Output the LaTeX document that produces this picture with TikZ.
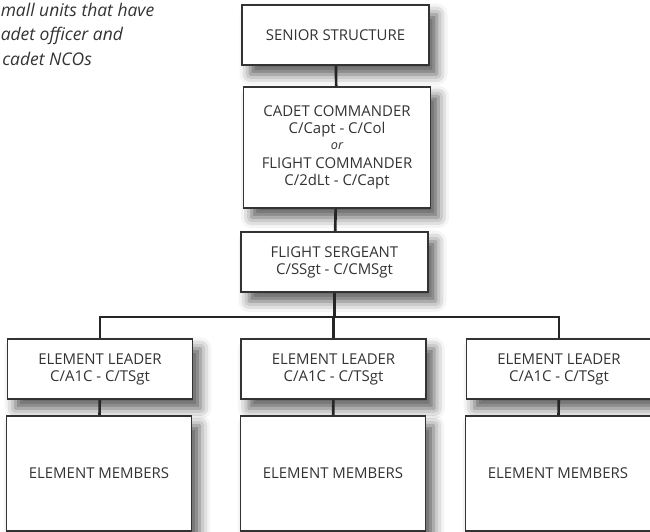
\documentclass[tikz,border=0pt]{standalone}
\usepackage{fontspec}
\setmainfont{Open Sans}
\usetikzlibrary{shadows.blur}

\definecolor{inkgray}{rgb}{0.2,0.2,0.2}

\begin{document}
\begin{tikzpicture}[x=0.75pt,y=0.75pt,yscale=-1,xscale=1,
	orgbox/.style={draw=inkgray, line width=1.2pt, fill=white, align=center, inner sep=0pt, text=inkgray,
		font=\fontsize{11.2}{12.75}\selectfont,
		blur shadow={shadow xshift=6pt, shadow yshift=-7pt, shadow blur radius=8pt, shadow opacity=65}},
	topbox/.style={orgbox, minimum width=140pt, minimum height=45pt},
	leaderbox/.style={orgbox, minimum width=139pt, minimum height=45pt},
	memberbox/.style={orgbox, minimum width=139pt, minimum height=86pt},
	notetext/.style={anchor=base west, inner sep=0pt, text=inkgray, font=\fontsize{13.1}{16}\selectfont\itshape},
	link/.style={draw=black!85, line width=2pt}]
		\useasboundingbox (0,0) rectangle (650,532);

		% Note in the upper left corner
		\node[notetext] (noteA) at (0.5,16.5) {mall units that have};
		\node[notetext] (noteB) at (0.5,40.5) {adet officer and};
		\node[notetext] (noteC) at (2,65) {cadet NCOs};

		% Command chain
		\node[topbox] (senior) at (335.5,35) {SENIOR STRUCTURE};
		\node[topbox, minimum height=91pt] (commander) at (337,147.5) {CADET COMMANDER\\ C/Capt - C/Col\\[-1pt] {\fontsize{9.5}{10}\selectfont\itshape or}\\[1.5pt] FLIGHT COMMANDER\\ C/2dLt - C/Capt};
		\node[topbox] (sergeant) at (334.5,262) {FLIGHT SERGEANT\\ C/SSgt - C/CMSgt};

		% Elements
		\node[leaderbox] (leaderL) at (100,369) {ELEMENT LEADER\\ C/A1C - C/TSgt};
		\node[leaderbox] (leaderM) at (333.5,369) {ELEMENT LEADER\\ C/A1C - C/TSgt};
		\node[leaderbox] (leaderR) at (559,369) {ELEMENT LEADER\\ C/A1C - C/TSgt};

		\node[memberbox] (membersL) at (99,473.5) {ELEMENT MEMBERS};
		\node[memberbox] (membersM) at (333,473.5) {ELEMENT MEMBERS};
		\node[memberbox] (membersR) at (558,473.5) {ELEMENT MEMBERS};

		% Connectors
		\coordinate (bus) at (333,317);
		\draw[link] (senior) -- (commander);
		\draw[link] (commander) -- (sergeant);
		\draw[link] (sergeant) -- (sergeant |- bus);
		\draw[link] (leaderL) -- (leaderL |- bus) -- (leaderR |- bus) -- (leaderR);
		\draw[link] (leaderM) -- (leaderM |- bus);
		\draw[link] (leaderL) -- (membersL);
		\draw[link] (leaderM) -- (membersM);
		\draw[link] (leaderR) -- (membersR);
	\end{tikzpicture}
\end{document}
